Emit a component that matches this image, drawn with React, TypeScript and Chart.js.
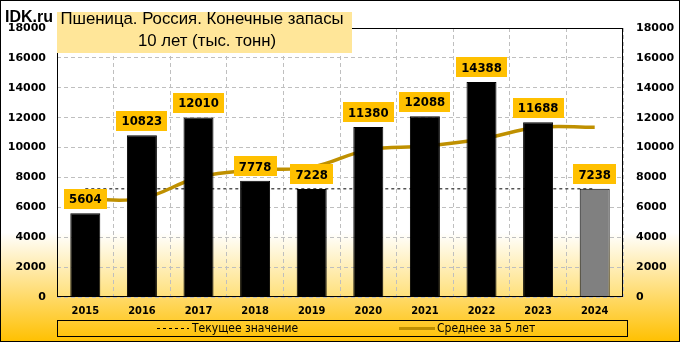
import React, { useEffect, useRef } from "react";
import { Chart, registerables } from "chart.js";

Chart.register(...registerables);

const categories = ["2015", "2016", "2017", "2018", "2019", "2020", "2021", "2022", "2023", "2024"];
const stocks = [5604, 10823, 12010, 7778, 7228, 11380, 12088, 14388, 11688, 7238];
const currentValue = [7238, 7238, 7238, 7238, 7238, 7238, 7238, 7238, 7238, 7238];
const average5 = [6550, 6600, 8000, 8500, 8689, 9844, 10097, 10572, 11354, 11356];
const yTicks = [0, 2000, 4000, 6000, 8000, 10000, 12000, 14000, 16000, 18000];
const titleLine1 = "Пшеница. Россия. Конечные запасы";
const titleLine2 = "10 лет (тыс. тонн)";
const legendCurrent = "Текущее значение";
const legendAverage = "Среднее за 5 лет";
const brand = "IDK.ru";

const barColors = stocks.map((_, i) => (i === stocks.length - 1 ? "#808080" : "#000000"));

const decorPlugin = {
  id: "decor",
  beforeDraw(chart: any) {
    const { ctx, width, height, chartArea: a } = chart;
    ctx.save();
    const g = ctx.createLinearGradient(0, 0, 0, height);
    g.addColorStop(0, "#FFFFFF");
    g.addColorStop(0.68, "#FFFFFF");
    g.addColorStop(1, "#FFC000");
    ctx.fillStyle = g;
    ctx.fillRect(0, 0, width, height);
    const g2 = ctx.createLinearGradient(0, a.top, 0, a.bottom);
    g2.addColorStop(0, "#FFFFFF");
    g2.addColorStop(0.76, "#FFFFFF");
    g2.addColorStop(1, "#FFE07A");
    ctx.fillStyle = g2;
    ctx.fillRect(a.left, a.top, a.right - a.left, a.bottom - a.top);
    ctx.restore();
  },
  afterDatasetsDraw(chart: any) {
    const { ctx, chartArea: a } = chart;
    ctx.save();
    ctx.strokeStyle = "#000000";
    ctx.lineWidth = 1;
    ctx.strokeRect(Math.round(a.left) + 0.5, Math.round(a.top) + 0.5, Math.round(a.right - a.left) - 1, Math.round(a.bottom - a.top) - 1);
    const meta = chart.getDatasetMeta(0);
    ctx.font = 'bold 13px "DejaVu Sans Condensed"';
    ctx.textAlign = "center";
    ctx.textBaseline = "middle";
    meta.data.forEach((bar: any, i: number) => {
      const text = String(stocks[i]);
      const w = Math.round(ctx.measureText(text).width + 10);
      const h = 20;
      const x = bar.x;
      const y = bar.y - 4.5 - h;
      ctx.fillStyle = "#FFC000";
      ctx.fillRect(Math.round(x - w / 2), Math.round(y), w, h);
      ctx.fillStyle = "#000000";
      ctx.fillText(text, x, y + h / 2 + 1);
    });
    ctx.restore();
  },
  afterDraw(chart: any) {
    const { ctx, width, height } = chart;
    ctx.save();
    ctx.fillStyle = "#FFE699";
    ctx.fillRect(57, 12, 295, 41);
    ctx.fillStyle = "#000000";
    ctx.textAlign = "center";
    ctx.textBaseline = "alphabetic";
    ctx.font = '16.8px "Liberation Sans"';
    ctx.fillText(titleLine1, 202, 24);
    ctx.fillText(titleLine2, 207, 46);
    ctx.textAlign = "left";
    ctx.font = 'bold 16px "Liberation Sans"';
    ctx.fillText(brand, 5, 22);
    ctx.strokeStyle = "#000000";
    ctx.lineWidth = 1;
    ctx.strokeRect(57.5, 320.5, 570, 16);
    ctx.beginPath();
    ctx.setLineDash([3, 3]);
    ctx.moveTo(157, 328.5);
    ctx.lineTo(189, 328.5);
    ctx.stroke();
    ctx.setLineDash([]);
    ctx.beginPath();
    ctx.strokeStyle = "#BF9000";
    ctx.lineWidth = 3;
    ctx.moveTo(399, 328.5);
    ctx.lineTo(435, 328.5);
    ctx.stroke();
    ctx.fillStyle = "#000000";
    ctx.font = '12px "DejaVu Sans Condensed"';
    ctx.textBaseline = "middle";
    ctx.fillText(legendCurrent, 192, 328.5);
    ctx.fillText(legendAverage, 437, 328.5);
    ctx.strokeStyle = "#000000";
    ctx.lineWidth = 1;
    ctx.strokeRect(0.5, 0.5, width - 1, height - 1);
    ctx.restore();
  },
};

export default function App() {
  const ref = useRef<HTMLCanvasElement | null>(null);
  useEffect(() => {
    document.body.style.margin = "0";
    if (!ref.current) return;
    const tickFont = { family: "'DejaVu Sans'", weight: "bold" as const, size: 11 };
    const plain = (v: any) => String(v);
    const chart = new Chart(ref.current, {
      type: "bar",
      data: {
        labels: categories,
        datasets: [
          {
            type: "bar",
            label: "Запасы",
            data: stocks,
            backgroundColor: barColors,
            borderColor: "#000000",
            borderWidth: 1,
            barPercentage: 0.53,
            categoryPercentage: 1,
            order: 0,
            yAxisID: "y",
          },
          {
            type: "line",
            label: legendCurrent,
            data: currentValue,
            borderColor: "#000000",
            borderWidth: 1,
            borderDash: [3, 3],
            pointRadius: 0,
            fill: false,
            order: 2,
            yAxisID: "y",
          },
          {
            type: "line",
            label: legendAverage,
            data: average5,
            borderColor: "#BF9000",
            borderWidth: 3.5,
            pointRadius: 0,
            tension: 0.4,
            fill: false,
            order: 1,
            yAxisID: "y",
          },
        ],
      },
      options: {
        responsive: false,
        animation: false,
        layout: { padding: { top: 28, left: 0, right: 0, bottom: 0 } },
        plugins: { legend: { display: false }, tooltip: { enabled: false }, title: { display: false } },
        scales: {
          x: {
            grid: { color: "#BFBFBF", drawTicks: false, offset: true },
            border: { display: false, dash: [4, 3] },
            ticks: { color: "#000000", font: { family: "'DejaVu Sans Condensed'", weight: "bold", size: 11 }, padding: 8 },
            afterFit: (s: any) => { s.height = 45; },
          },
          y: {
            position: "left",
            min: 0,
            max: 18000,
            afterBuildTicks: (s: any) => { s.ticks = yTicks.map((v) => ({ value: v })); },
            grid: { color: "#BFBFBF", drawTicks: false },
            border: { display: false, dash: [4, 3] },
            ticks: { color: "#000000", font: tickFont, padding: 11, callback: plain },
            afterFit: (s: any) => { s.width = 57; },
          },
          y2: {
            position: "right",
            min: 0,
            max: 18000,
            afterBuildTicks: (s: any) => { s.ticks = yTicks.map((v) => ({ value: v })); },
            grid: { display: false, drawTicks: false },
            border: { display: false },
            ticks: { color: "#000000", font: tickFont, padding: 13, callback: plain },
            afterFit: (s: any) => { s.width = 57; },
          },
        },
      },
      plugins: [decorPlugin],
    } as any);
    return () => chart.destroy();
  }, []);
  return (
    <div style={{ width: 680, height: 342 }}>
      <canvas ref={ref} width={680} height={342} />
    </div>
  );
}
